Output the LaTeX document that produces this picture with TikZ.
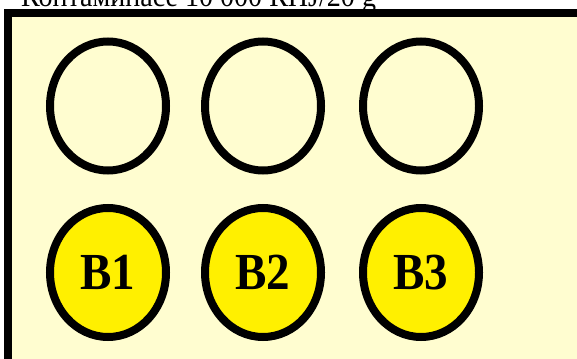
\documentclass[tikz,border=0pt]{standalone}
\usepackage{fontspec}
\setmainfont{Liberation Serif}
\usepackage{xcolor}
\usepackage{tikz}
\usetikzlibrary{shapes.geometric}
\definecolor{plateyellow}{RGB}{255, 253, 208}
\definecolor{wellyellow}{RGB}{255, 240, 0}

\tikzset{
  well/.style={ellipse, draw=black, line width=8pt, minimum width=116pt,
    minimum height=129pt, inner sep=0pt, font=\fontsize{52}{52}\selectfont\bfseries},
  filledwell/.style={well, fill=wellyellow}
}

\begin{document}
\begin{tikzpicture}[x=1pt, y=-1pt]
  \useasboundingbox (0,0) rectangle (577,358);
  \clip (0,0) rectangle (577,358);
  \fill[white] (0,0) rectangle (577,358);
  % --- title (cut off at the top, as in the plate photo) ---
  \node[anchor=base west, inner sep=0pt, font=\fontsize{31}{31}\selectfont] (title) at (21,7)
    {\scalebox{0.905}[1]{Контаминасе 10 000 КПЈ/20 g}};
  % --- plate ---
  \fill[plateyellow] (7.5,13) rectangle (600,380);
  \draw[black, line width=8pt] (600,13) -- (7.5,13) -- (7.5,380);
  % empty wells (upper row)
  \foreach \x/\n in {108/1, 263/2, 421/3}{
    \node[well] (top\n) at (\x,106) {};
  }
  % filled wells (lower row)
  \foreach \x/\n in {108/1, 263/2, 421/3}{
    \node[filledwell] (b\n) at (\x,272.5) {\scalebox{0.905}[1]{B\n}};
  }
\end{tikzpicture}
\end{document}
